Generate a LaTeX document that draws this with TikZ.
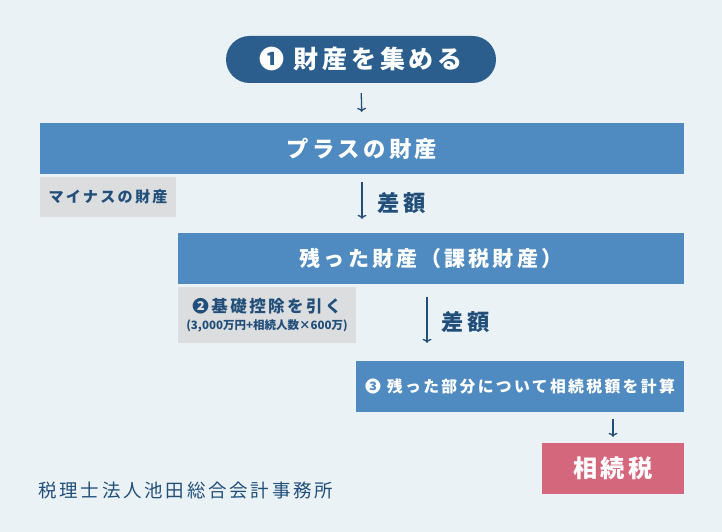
\documentclass[tikz,border=0pt]{standalone}
\usepackage{fontspec}
\setmainfont{Noto Sans CJK JP}[LetterSpace=15]
\usepackage{xcolor}
\usepackage{tikz}
\usetikzlibrary{arrows.meta,calc,positioning}

\definecolor{bgc}{HTML}{EAF2F5}
\definecolor{navy}{HTML}{2B5E8C}
\definecolor{midblue}{HTML}{4F8BC0}
\definecolor{greybox}{HTML}{DBDDDF}
\definecolor{rose}{HTML}{D5677D}
\definecolor{ink}{HTML}{214F7A}

\newcommand{\px}[1]{\fontsize{#1}{#1}\selectfont}

\begin{document}
\begin{tikzpicture}[x=1pt, y=-1pt, arrow/.style = {draw=ink, line width=1.3pt, -{To[length=4pt,width=9pt]}}]
				\tikzset{bar/.style={rectangle, inner sep=0pt, text=white, font=\bfseries}}
				\tikzset{note/.style={bar, fill=greybox, text=ink}}

				\fill[bgc] (0,0) rectangle (722,532);
				\useasboundingbox (0,0) rectangle (722,532);

				\node[bar, fill=navy, rounded corners=23.5pt, minimum width=270, minimum height=47] (collect) at (361,59.5) {\px{25}❶ 財産を集める};
				\node[bar, fill=midblue, minimum width=644, minimum height=51] (plus) at (362,148.5) {\px{22.3}プラスの財産};
				\node[note, minimum width=136, minimum height=40] (minus) at (108,197) {\px{15.1}マイナスの財産};
				\node[bar, fill=midblue, minimum width=506, minimum height=51] (remain) at (431,258.5) {\px{21}残った財産（課税財産）};
				\node[note, minimum width=178, minimum height=56, align=center] (basic) at (267,315) {\px{16.5}❷基礎控除を引く\\[5pt]\px{11.5}\addfontfeature{LetterSpace=0}(3,000万円+相続人数×600万)};
				\node[bar, fill=midblue, minimum width=328, minimum height=51] (calc) at (520,386.5) {\px{15.8}❸ 残った部分について相続税額を計算};
				\node[bar, fill=rose, minimum width=142, minimum height=51] (tax) at (613,468.5) {\px{24.2}相続税};

				\coordinate (mid2) at (427,300);

				\draw [arrow, shorten <=10pt, shorten >=11pt] (collect.south) -- (plus.north);
				\draw [arrow, shorten <=8pt, shorten >=14pt] (plus.south) -- node [right=12pt, text=ink, font=\bfseries\px{22.3}] {差額} (plus.south |- remain.north);
				\draw [arrow, shorten <=13pt, shorten >=18pt] (mid2 |- remain.south) -- node [right=11pt, text=ink, font=\bfseries\px{22.3}] {差額} (mid2 |- calc.north);
				\draw [arrow, shorten <=7pt, shorten >=6pt] (tax.north |- calc.south) -- (tax.north);

				\node[anchor=west, text=ink, inner sep=0pt, font=\px{18.5}] (firm) at (38,490) {税理士法人池田総合会計事務所};

			\end{tikzpicture}
\end{document}
